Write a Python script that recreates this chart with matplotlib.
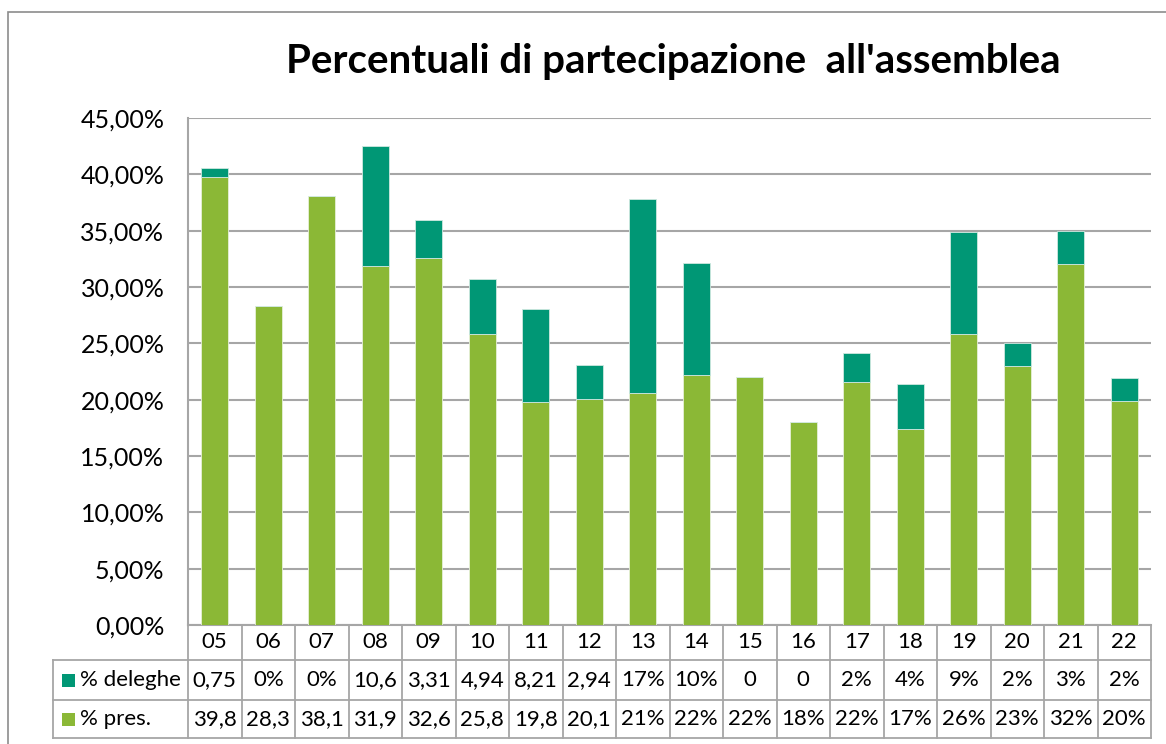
import matplotlib.pyplot as plt
from matplotlib.patches import Rectangle
from matplotlib.ticker import FuncFormatter, MultipleLocator
import matplotlib.transforms as mtransforms

plt.rcParams['font.family'] = ['Lato', 'DejaVu Sans']

# Data (percent values)
years = ['05', '06', '07', '08', '09', '10', '11', '12', '13',
         '14', '15', '16', '17', '18', '19', '20', '21', '22']
pres = [39.8, 28.3, 38.1, 31.9, 32.6, 25.8, 19.8, 20.1, 20.6,
        22.2, 22.0, 18.0, 21.6, 17.4, 25.8, 23.0, 32.0, 19.9]
deleghe = [0.75, 0, 0, 10.6, 3.31, 4.94, 8.21, 2.94, 17.2,
           9.9, 0, 0, 2.5, 4.0, 9.1, 2.0, 3.0, 2.05]
# texts shown in the data table under the chart
deleghe_labels = ['0,75', '0%', '0%', '10,6', '3,31', '4,94', '8,21', '2,94', '17%',
                  '10%', '0', '0', '2%', '4%', '9%', '2%', '3%', '2%']
pres_labels = ['39,8', '28,3', '38,1', '31,9', '32,6', '25,8', '19,8', '20,1', '21%',
               '22%', '22%', '18%', '22%', '17%', '26%', '23%', '32%', '20%']

green = '#8BB836'
teal = '#009775'
grid_col = '#A6A6A6'

W, H = 1166, 744
fig = plt.figure(figsize=(W / 100, H / 100), dpi=100)

# outer chart border
fig.patches.append(Rectangle((8 / W, -0.1), 1.2, 1 - 12 / H + 0.1, transform=fig.transFigure,
                             fill=False, edgecolor='#8C8C8C', linewidth=1.2))

left, right, top, bottom = 188, 1151, 118, 625
ax = fig.add_axes([left / W, 1 - bottom / H, (right - left) / W, (bottom - top) / H])

x = list(range(len(years)))
ax.bar(x, pres, width=0.5, color=green, edgecolor='#E6F0D8', linewidth=0.6, zorder=3)
ax.bar(x, deleghe, width=0.5, bottom=pres, color=teal, edgecolor='#CFE8E0', linewidth=0.6, zorder=3)

ax.set_xlim(-0.5, len(years) - 0.5)
ax.set_ylim(0, 45)
ax.yaxis.set_major_locator(MultipleLocator(5))
ax.yaxis.set_major_formatter(FuncFormatter(lambda v, p: f'{v:.2f}%'.replace('.', ',')))
ax.tick_params(axis='y', length=0, pad=17, labelsize=18)
ax.tick_params(axis='x', length=0, labelbottom=False)
ax.grid(axis='y', color=grid_col, linewidth=1.5, zorder=0)
for s in ['top', 'right']:
    ax.spines[s].set_visible(False)
ax.spines['left'].set_color(grid_col)
ax.spines['bottom'].set_color(grid_col)
ax.spines['left'].set_linewidth(1.5)
ax.spines['bottom'].set_linewidth(1.5)

fig.text(673 / W, 1 - 62 / H, "Percentuali di partecipazione  all'assemblea",
         ha='center', va='center', fontsize=29, fontweight='bold')

# data table below the axis
trans = mtransforms.blended_transform_factory(ax.transData, ax.transAxes)
ph = bottom - top
r1 = -(660 - bottom) / ph
r2 = -(700 - bottom) / ph
r3 = -(738 - bottom) / ph
xl = -0.5 - (left - 53) / ((right - left) / len(years))
n = len(years)
lkw = dict(color=grid_col, linewidth=1.3, transform=trans, clip_on=False)
for i in range(n + 1):
    ax.plot([i - 0.5, i - 0.5], [0, r3], **lkw)
ax.plot([xl, xl], [r1, r3], **lkw)
for yy in [r1, r2, r3]:
    ax.plot([xl, n - 0.5], [yy, yy], **lkw)

tkw = dict(transform=trans, ha='center', va='center', fontsize=16, clip_on=False)
for i in range(n):
    ax.text(i, r1 / 2, years[i], **tkw)
    ax.text(i, (r1 + r2) / 2, deleghe_labels[i], **tkw)
    ax.text(i, (r2 + r3) / 2, pres_labels[i], **tkw)

for yc, lab, col in [((r1 + r2) / 2, '% deleghe', teal), ((r2 + r3) / 2, '% pres.', green)]:
    ypx = bottom - yc * ph
    fig.patches.append(Rectangle((62 / W, 1 - (ypx + 7) / H), 13 / W, 13 / H,
                                 transform=fig.transFigure, facecolor=col, edgecolor='none'))
    fig.text(80 / W, 1 - ypx / H, lab, ha='left', va='center', fontsize=16)

fig.savefig('out.png', dpi=100)
